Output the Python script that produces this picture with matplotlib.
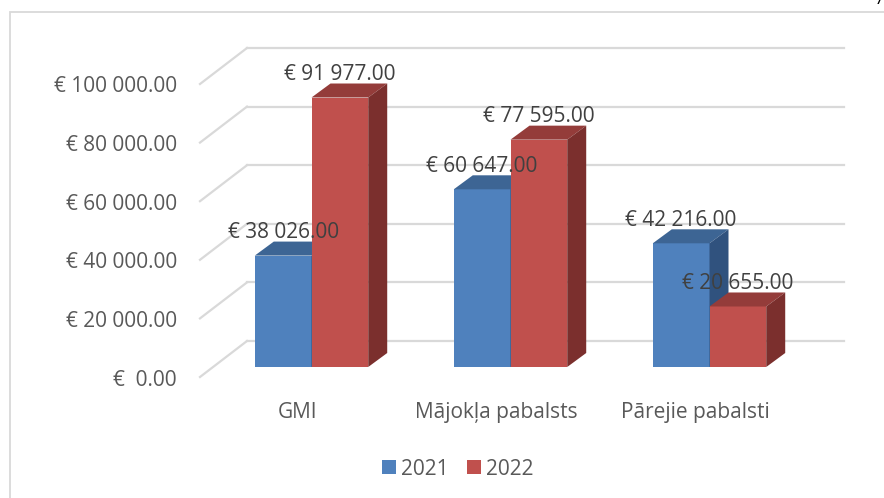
import numpy as np
import matplotlib.pyplot as plt
import matplotlib.transforms as mtransforms
from matplotlib.patches import Polygon, Rectangle

categories = ["GMI", "Mājokļa pabalsts", "Pārejie pabalsti"]
years = ["2021", "2022"]
values_2021 = [38026, 60647, 42216]
values_2022 = [91977, 77595, 20655]
yticks = [0, 20000, 40000, 60000, 80000, 100000]

front_colors = ["#4F81BD", "#C0504D"]
top_colors = ["#3D6594", "#943C3A"]
side_colors = ["#30527E", "#7B2F2D"]

plt.rcParams['font.family'] = ['Open Sans', 'DejaVu Sans']
fs = 15

W, H = 884, 498
fig = plt.figure(figsize=(W / 100, H / 100), dpi=100)
ax = fig.add_axes([212 / W, (H - 367) / H, 597 / W, 293 / H])
ax.set_xlim(-0.5, 2.5)
ax.set_ylim(0, 100000)
ax.axis("off")

# pixel -> data units
px_x = 3 / 597
px_y = 100000 / 293


def off(dx, dy):
    return mtransforms.ScaledTranslation(dx / 100, dy / 100, fig.dpi_scale_trans)


# back wall gridlines and left wall diagonals
for v in yticks:
    ax.plot([-0.5 + 35 * px_x, 2.5 + 35 * px_x], [v + 26 * px_y, v + 26 * px_y],
            color="#D9D9D9", lw=1.6, clip_on=False, zorder=1)
    ax.plot([-0.5 - 12 * px_x, -0.5 + 35 * px_x], [v - 10 * px_y, v + 26 * px_y],
            color="#D9D9D9", lw=1.6, clip_on=False, zorder=1)
    if v == 0:
        lab = "€  0.00"
    else:
        lab = "€ " + f"{v:,.2f}".replace(",", " ")
    ax.text(0, v, lab, transform=ax.get_yaxis_transform() + off(-35, -13),
            ha="right", va="center", fontsize=fs, color="#595959")

x = np.arange(len(categories))
w = 0.285
dx = 19 * px_x
dy = 14 * px_y
series = [values_2021, values_2022]
for k in range(2):
    xs = x - w / 2 if k == 0 else x + w / 2
    bars = ax.bar(xs, series[k], w, color=front_colors[k], label=years[k], zorder=2 + k)
    for xc, v in zip(xs, series[k]):
        x0, x1 = xc - w / 2, xc + w / 2
        ax.add_patch(Polygon([(x0, v), (x1, v), (x1 + dx, v + dy), (x0 + dx, v + dy)],
                             closed=True, fc=top_colors[k], ec="none", zorder=2 + k))
        ax.add_patch(Polygon([(x1, 0), (x1 + dx, dy), (x1 + dx, v + dy), (x1, v)],
                             closed=True, fc=side_colors[k], ec="none", zorder=2 + k))
        ax.text(xc, v, "€ " + f"{v:,.2f}".replace(",", " "),
                transform=ax.transData + off(0, 23), ha="center", va="center",
                fontsize=fs, color="#404040", zorder=10)

for i, c in enumerate(categories):
    ax.text(i, 0, c, transform=ax.get_xaxis_transform() + off(-14, -45),
            ha="center", va="center", fontsize=fs, color="#595959")

fig.legend(loc="center", bbox_to_anchor=(458 / W, 1 - 469 / H), ncol=2, frameon=False,
           fontsize=fs, labelcolor="#595959", handlelength=0.65, handleheight=0.65,
           handletextpad=0.25, columnspacing=0.9)

fig.add_artist(Rectangle((10 / W, -0.1), 1.2, (H - 12) / H + 0.1, transform=fig.transFigure,
                         fill=False, ec="#D9D9D9", lw=1.3))
fig.text(879 / W, 1.0, "7", ha="center", va="center", fontsize=12, color="black")

plt.savefig("out.png", dpi=100)
